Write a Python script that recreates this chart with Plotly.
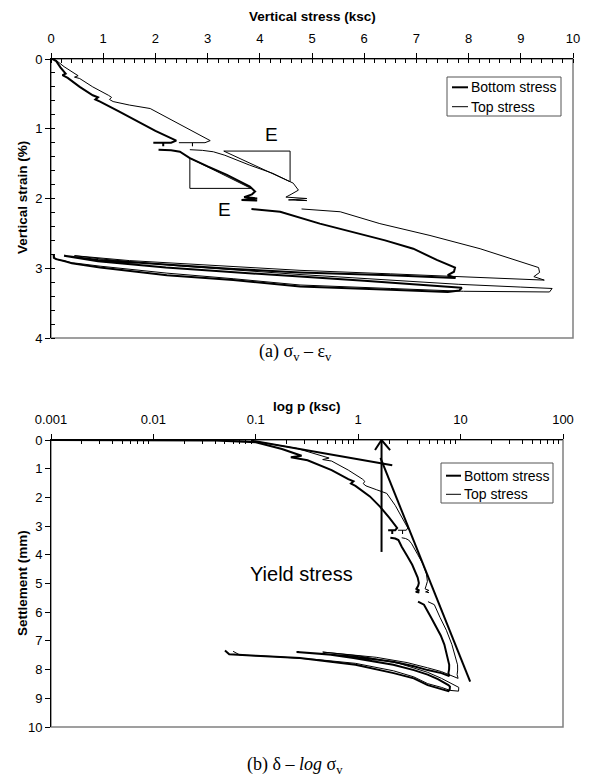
import plotly.graph_objects as go

W, H = 589, 780
OFF_X, OFF_Y = 8, 8  # page body margin of the browser

# ---------------- data: panel (a) vertical stress (ksc) vs vertical strain (%) ----------------
BOT_STRESS = [0.001, 0.04, 0.1, 0.18, 0.28, 0.22, 0.32, 0.55, 0.8, 0.9, 0.85, 0.94, 1.3, 1.64, 2.0, 2.4,
              2.3, 2.15, 2.15, 2.15, 1.96, None,
              2.06, 2.3, 2.47, 2.66, 3.0, 3.37, 3.81, 3.91, 3.85, 3.7, 3.95, 3.65, 3.95, 3.75, None,
              3.84, 4.39, 5.15, 5.86, 6.4, 6.94, 7.39, 7.74, 7.72, 7.6, 7.75,
              6.5, 4.77, 3.5, 2.2, 0.9, 0.25,
              0.5, 0.9, 2.2, 3.5, 4.77, 6.0, 7.0, 7.6, 7.87, 7.82, 7.6,
              6.5, 4.77, 3.49, 2.22, 0.94, 0.4, 0.27, 0.1, 0.055, 0.05]
BOT_STRAIN = [0.0, 0.005, 0.03, 0.12, 0.21, 0.23, 0.27, 0.40, 0.52, 0.55, 0.58, 0.61, 0.75, 0.89, 1.03, 1.17,
              1.2, 1.2, 1.25, 1.2, 1.2, None,
              1.30, 1.31, 1.33, 1.42, 1.54, 1.66, 1.83, 1.90, 1.94, 1.98, 2.0, 2.02, 2.03, 2.02, None,
              2.15, 2.19, 2.36, 2.50, 2.60, 2.72, 2.88, 2.99, 3.05, 3.10, 3.14,
              3.10, 3.06, 3.01, 2.95, 2.88, 2.82,
              2.85, 2.90, 2.99, 3.06, 3.12, 3.18, 3.23, 3.26, 3.28, 3.32, 3.34,
              3.31, 3.26, 3.17, 3.10, 2.99, 2.93, 2.90, 2.87, 2.85, 2.80]

TOP_STRESS = [0.001, 0.04, 0.1, 0.25, 0.52, 0.45, 0.55, 0.8, 1.1, 1.16, 1.12, 1.19, 1.5, 1.9, 2.3, 2.7, 3.05,
              2.95, 2.71, 2.71, 2.71, 2.45, None,
              2.66, 2.9, 3.11, 3.33, 3.8, 4.25, 4.64, 4.74, 4.6, 4.5, 4.9, 4.55, 4.9, 4.7, None,
              4.8, 5.54, 6.3, 7.26, 8.22, 8.86, 9.34, 9.36, 9.25, 9.45,
              8.0, 6.5, 4.77, 3.0, 1.5, 0.6, 0.45,
              1.0, 2.5, 4.77, 6.5, 7.8, 9.0, 9.6, 9.55, 8.5, 7.9,
              6.5, 4.77, 3.49, 2.22, 0.94, 0.4, 0.15, 0.07, 0.06]
TOP_STRAIN = [0.0, 0.003, 0.02, 0.11, 0.24, 0.26, 0.28, 0.40, 0.52, 0.55, 0.58, 0.61, 0.66, 0.71, 0.87, 1.03, 1.17,
              1.2, 1.2, 1.25, 1.2, 1.2, None,
              1.30, 1.31, 1.33, 1.38, 1.52, 1.64, 1.78, 1.88, 1.94, 1.98, 2.0, 2.02, 2.03, 2.02, None,
              2.15, 2.19, 2.36, 2.53, 2.72, 2.88, 2.99, 3.06, 3.12, 3.17,
              3.13, 3.08, 3.03, 2.96, 2.89, 2.83, 2.82,
              2.87, 2.97, 3.09, 3.17, 3.23, 3.27, 3.29, 3.34, 3.34, 3.33,
              3.29, 3.24, 3.15, 3.07, 2.97, 2.92, 2.88, 2.86, 2.81]

# slope triangles "E"
TRI_UP_X = [3.31, 4.58, 4.58, 3.31]
TRI_UP_Y = [1.32, 1.32, 1.76, 1.32]
TRI_LO_X = [2.66, 2.66, 3.83, 2.66]
TRI_LO_Y = [1.42, 1.855, 1.855, 1.42]

# ---------------- panel (b): settlement (mm) vs log p ----------------
MM_PER_PCT = 2.62  # specimen height / 100 (mm per % strain)
PRE_X = [0.09, 2.15]
PRE_Y = [0.02, 0.88]
VIRGIN_X = [1.65, 12.4]
VIRGIN_Y = [0.62, 8.42]
ARROW_X = [1.69, 1.69]
ARROW_Y = [3.9, 0.0]
HEAD_X = [1.46, 1.69, 2.05]
HEAD_Y = [0.35, 0.0, 0.35]

X_TICKS_B = [0.001, 0.01, 0.1, 1, 10, 100]
X_TICKTEXT_B = ["0.001", "0.01", "0.1", "1", "10", "100"]
X_MINOR_B = [k * 10 ** e for e in range(-3, 2) for k in range(2, 10)]

def to_settle(vals):
    return [None if v is None else v * MM_PER_PCT for v in vals]

SANS = "Liberation Sans, Arial, sans-serif"
SERIF = "Liberation Serif, Times New Roman, serif"

def pxx(x):
    return (x - OFF_X) / W

def pxy(y):
    return 1 - (y - OFF_Y) / H

fig = go.Figure()

# panel a
fig.add_trace(go.Scatter(x=BOT_STRESS, y=BOT_STRAIN, mode="lines", line=dict(color="black", width=2),
                         name="Bottom stress", showlegend=False, xaxis="x", yaxis="y"))
fig.add_trace(go.Scatter(x=TOP_STRESS, y=TOP_STRAIN, mode="lines", line=dict(color="black", width=1),
                         name="Top stress", showlegend=False, xaxis="x", yaxis="y"))
fig.add_trace(go.Scatter(x=TRI_UP_X, y=TRI_UP_Y, mode="lines", line=dict(color="black", width=1),
                         showlegend=False, xaxis="x", yaxis="y"))
fig.add_trace(go.Scatter(x=TRI_LO_X, y=TRI_LO_Y, mode="lines", line=dict(color="black", width=1),
                         showlegend=False, xaxis="x", yaxis="y"))

# panel b
fig.add_trace(go.Scatter(x=BOT_STRESS, y=to_settle(BOT_STRAIN), mode="lines", line=dict(color="black", width=2),
                         showlegend=False, xaxis="x2", yaxis="y2"))
fig.add_trace(go.Scatter(x=TOP_STRESS, y=to_settle(TOP_STRAIN), mode="lines", line=dict(color="black", width=1),
                         showlegend=False, xaxis="x2", yaxis="y2"))
for xs, ys in [(PRE_X, PRE_Y), (VIRGIN_X, VIRGIN_Y), (ARROW_X, ARROW_Y), (HEAD_X, HEAD_Y)]:
    fig.add_trace(go.Scatter(x=xs, y=ys, mode="lines", line=dict(color="black", width=2),
                             showlegend=False, xaxis="x2", yaxis="y2"))

axis_common = dict(showgrid=False, zeroline=False, showline=True, linecolor="black", linewidth=1,
                   ticks="outside", ticklen=5, tickcolor="black", tickwidth=1, automargin=False,
                   tickfont=dict(size=13, color="black", family=SANS))

fig.update_layout(
    width=W, height=H, margin=dict(l=0, r=0, t=0, b=0, autoexpand=False),
    paper_bgcolor="white", plot_bgcolor="white",
    font=dict(family=SANS, color="black"),
    showlegend=False,
    xaxis=dict(domain=[pxx(51), pxx(573)], anchor="y", side="top", range=[0, 10], tickvals=list(range(11)),
               ticklabelstandoff=5,
               minor=dict(ticks="inside", ticklen=4, dtick=0.2, tickcolor="black", showgrid=False),
               **axis_common),
    yaxis=dict(domain=[pxy(338), pxy(59)], anchor="x", range=[4, 0], tickvals=[0, 1, 2, 3, 4],
               minor=dict(ticks="inside", ticklen=4, dtick=0.2, tickcolor="black", showgrid=False),
               **axis_common),
    xaxis2=dict(domain=[pxx(51), pxx(563)], anchor="y2", side="top", type="log", range=[-3, 2],
                tickvals=X_TICKS_B, ticktext=X_TICKTEXT_B, ticklabelstandoff=5,
                minor=dict(ticks="inside", ticklen=4, tickvals=X_MINOR_B, tickcolor="black", showgrid=False),
                **axis_common),
    yaxis2=dict(domain=[pxy(727), pxy(440)], anchor="x2", range=[10, 0], tickvals=list(range(11)),
                **axis_common),
)

shapes = []
for xr, yr in [("x", "y"), ("x2", "y2")]:
    shapes.append(dict(type="rect", xref=f"{xr} domain", yref=f"{yr} domain", x0=0, x1=1, y0=0, y1=1,
                       line=dict(color="#808080", width=1.5), layer="below"))

annotations = []

def legend(box, y1, y2, lx0, lx1, tx):
    x0, yb0, x1, yb1 = box
    shapes.append(dict(type="rect", xref="paper", yref="paper", x0=pxx(x0), x1=pxx(x1), y0=pxy(yb1), y1=pxy(yb0),
                       line=dict(color="#555555", width=1), fillcolor="white"))
    for yy, wdt, label in [(y1, 2, "Bottom stress"), (y2, 1, "Top stress")]:
        shapes.append(dict(type="line", xref="paper", yref="paper", x0=pxx(lx0), x1=pxx(lx1), y0=pxy(yy), y1=pxy(yy),
                           line=dict(color="black", width=wdt)))
        annotations.append(dict(text=label, xref="paper", yref="paper", x=pxx(tx), y=pxy(yy), xanchor="left",
                                yanchor="middle", showarrow=False, font=dict(size=14, family=SANS, color="black")))

legend((447, 77, 561, 116), 87.3, 106.7, 452, 468, 469)
legend((441, 463, 553, 503), 475.7, 494.3, 446, 461, 462)

def text(t, x, y, size, family=SANS, angle=0):
    annotations.append(dict(text=t, xref="paper", yref="paper", x=pxx(x), y=pxy(y), xanchor="center",
                            yanchor="middle", showarrow=False, textangle=angle,
                            font=dict(size=size, family=family, color="black")))

text("<b>Vertical stress (ksc)</b>", 312, 17, 13.5)
text("<b>Vertical strain (%)</b>", 22, 198, 13.5, angle=-90)
text("<b>log p (ksc)</b>", 307, 407, 13.5)
text("<b>Settlement (mm)</b>", 22, 583, 13.5, angle=-90)
text("E", 271, 135, 19)
text("E", 224, 210, 19)
text("Yield stress", 301, 574, 20)
text("(a) σ<sub>v</sub> – ε<sub>v</sub>", 295, 352, 18, family=SERIF)
text("(b) δ – <i>log</i> σ<sub>v</sub>", 295, 765, 18, family=SERIF)

fig.update_layout(shapes=shapes, annotations=annotations)
fig.write_html("out.html")
